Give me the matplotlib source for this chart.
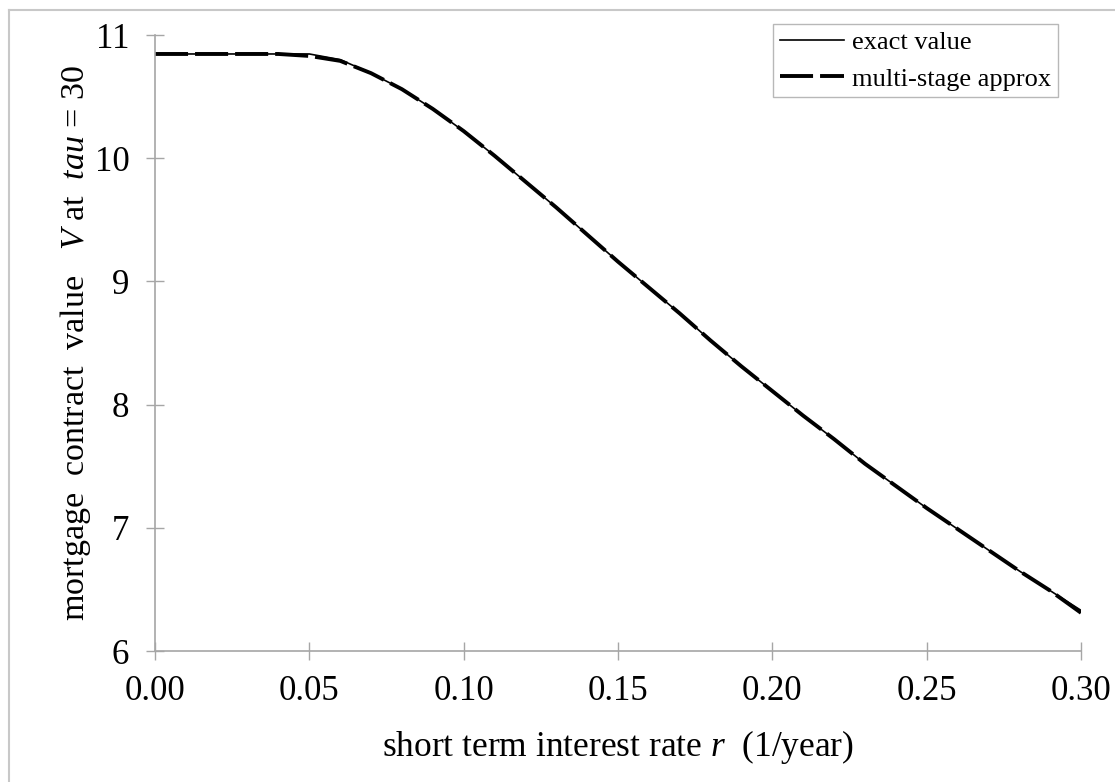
import matplotlib
matplotlib.use("Agg")
import matplotlib.pyplot as plt
from matplotlib.lines import Line2D

# ---- data ----
rate = [0.00, 0.01, 0.02, 0.03, 0.04, 0.05, 0.06, 0.07, 0.08, 0.09, 0.10,
        0.11, 0.12, 0.13, 0.14, 0.15, 0.16, 0.17, 0.18, 0.19, 0.20,
        0.21, 0.22, 0.23, 0.24, 0.25, 0.26, 0.27, 0.28, 0.29, 0.30]
exact_value = [10.846, 10.846, 10.846, 10.846, 10.846, 10.846, 10.80, 10.69, 10.56, 10.40, 10.22,
               10.02, 9.81, 9.60, 9.38, 9.16, 8.95, 8.74, 8.52, 8.31, 8.11,
               7.91, 7.72, 7.52, 7.34, 7.16, 6.99, 6.82, 6.65, 6.49, 6.33]
approx_value = [10.846, 10.846, 10.846, 10.846, 10.846, 10.83, 10.79, 10.69, 10.56, 10.40, 10.22,
                10.02, 9.81, 9.60, 9.38, 9.16, 8.95, 8.74, 8.52, 8.31, 8.11,
                7.91, 7.72, 7.52, 7.34, 7.16, 6.99, 6.82, 6.65, 6.49, 6.31]
xticks = [0.00, 0.05, 0.10, 0.15, 0.20, 0.25, 0.30]
xticklabels = ["0.00", "0.05", "0.10", "0.15", "0.20", "0.25", "0.30"]
yticks = [6, 7, 8, 9, 10, 11]

plt.rcParams['font.family'] = ['Liberation Serif', 'DejaVu Serif']
plt.rcParams['mathtext.fontset'] = 'custom'
plt.rcParams['mathtext.rm'] = 'Liberation Serif'
plt.rcParams['mathtext.it'] = 'Liberation Serif:italic'

W, H = 1115, 782
fig = plt.figure(figsize=(W / 100, H / 100), dpi=100)
ax = fig.add_axes([155 / W, 1 - 651 / H, (1081 - 155) / W, (651 - 35) / H])

gray = '#a6a6a6'
ax.plot(rate, exact_value, color='black', lw=1.2, label='exact value')
ax.plot(rate, approx_value, color='black', lw=2.8, dashes=(8.5, 1.8),
        label='multi-stage approx')

ax.set_xlim(0, 0.30)
ax.set_ylim(6, 11)
ax.set_xticks(xticks)
ax.set_xticklabels(xticklabels)
ax.set_yticks(yticks)

for s in ['top', 'right']:
    ax.spines[s].set_visible(False)
for s in ['left', 'bottom']:
    ax.spines[s].set_color(gray)
    ax.spines[s].set_linewidth(1.2)

ax.tick_params(axis='both', direction='inout', length=13, width=1.0,
               color=gray, labelsize=25, labelcolor='black')
ax.tick_params(axis='x', pad=11)
ax.tick_params(axis='y', pad=12)

ax.set_xlabel(r"short term interest rate $r$  (1/year)", fontsize=25.5, labelpad=14)
ax.set_ylabel(r"mortgage  contract  value   $V$ at  $tau$ = 30", fontsize=24.5, labelpad=1)

leg = fig.legend(loc='upper right', bbox_to_anchor=(1058 / W, 1 - 24 / H),
                 fontsize=19, frameon=True, fancybox=False, handlelength=2.45,
                 handletextpad=0.3, borderpad=0.25, labelspacing=0.5,
                 borderaxespad=0)
leg.get_frame().set_edgecolor(gray)
leg.get_frame().set_linewidth(1.0)

# figure border (chart area)
fig.add_artist(Line2D([8.5 / W, 1], [1 - 9.5 / H, 1 - 9.5 / H], color='#c8c8c8', lw=1.5))
fig.add_artist(Line2D([8.5 / W, 8.5 / W], [0, 1 - 9.5 / H], color='#c8c8c8', lw=1.5))

fig.savefig('out.png', dpi=100)
